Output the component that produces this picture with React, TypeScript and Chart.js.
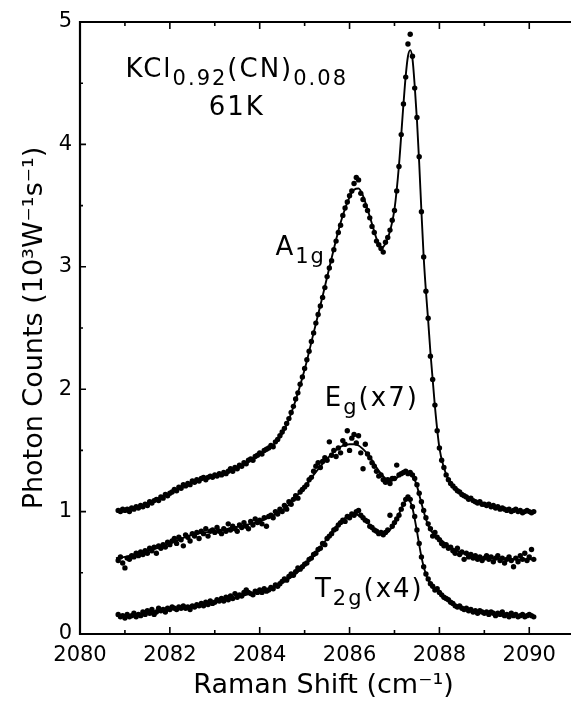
import React, { useEffect, useRef } from 'react';
import { Chart, registerables } from 'chart.js';
Chart.register(...registerables);

const FONT = "'DejaVu Sans', 'Liberation Sans', sans-serif";

// Raman shift of measured points (cm^-1)
const dataX = [
  2080.85, 2080.90, 2080.95,
  2081.00, 2081.05, 2081.10, 2081.15, 2081.20, 2081.25, 2081.30, 2081.35, 2081.40, 2081.45, 2081.50, 2081.55, 2081.60, 2081.65, 2081.70, 2081.75, 2081.80, 2081.85, 2081.90, 2081.95,
  2082.00, 2082.05, 2082.10, 2082.15, 2082.20, 2082.25, 2082.30, 2082.35, 2082.40, 2082.45, 2082.50, 2082.55, 2082.60, 2082.65, 2082.70, 2082.75, 2082.80, 2082.85, 2082.90, 2082.95,
  2083.00, 2083.05, 2083.10, 2083.15, 2083.20, 2083.25, 2083.30, 2083.35, 2083.40, 2083.45, 2083.50, 2083.55, 2083.60, 2083.65, 2083.70, 2083.75, 2083.80, 2083.85, 2083.90, 2083.95,
  2084.00, 2084.05, 2084.10, 2084.15, 2084.20, 2084.25, 2084.30, 2084.35, 2084.40, 2084.45, 2084.50, 2084.55, 2084.60, 2084.65, 2084.70, 2084.75, 2084.80, 2084.85, 2084.90, 2084.95,
  2085.00, 2085.05, 2085.10, 2085.15, 2085.20, 2085.25, 2085.30, 2085.35, 2085.40, 2085.45, 2085.50, 2085.55, 2085.60, 2085.65, 2085.70, 2085.75, 2085.80, 2085.85, 2085.90, 2085.95,
  2086.00, 2086.05, 2086.10, 2086.15, 2086.20, 2086.25, 2086.30, 2086.35, 2086.40, 2086.45, 2086.50, 2086.55, 2086.60, 2086.65, 2086.70, 2086.75, 2086.80, 2086.85, 2086.90, 2086.95,
  2087.00, 2087.05, 2087.10, 2087.15, 2087.20, 2087.25, 2087.30, 2087.35, 2087.40, 2087.45, 2087.50, 2087.55, 2087.60, 2087.65, 2087.70, 2087.75, 2087.80, 2087.85, 2087.90, 2087.95,
  2088.00, 2088.05, 2088.10, 2088.15, 2088.20, 2088.25, 2088.30, 2088.35, 2088.40, 2088.45, 2088.50, 2088.55, 2088.60, 2088.65, 2088.70, 2088.75, 2088.80, 2088.85, 2088.90, 2088.95,
  2089.00, 2089.05, 2089.10, 2089.15, 2089.20, 2089.25, 2089.30, 2089.35, 2089.40, 2089.45, 2089.50, 2089.55, 2089.60, 2089.65, 2089.70, 2089.75, 2089.80, 2089.85, 2089.90, 2089.95,
  2090.00, 2090.05, 2090.10,
];

// A1g measured counts (10^3 W^-1 s^-1)
const a1gDots = [
  1.01, 1.00, 1.02,
  1.01, 1.02, 1.00, 1.03, 1.02, 1.04, 1.03, 1.05, 1.04, 1.06, 1.05, 1.08, 1.07, 1.09, 1.10, 1.09, 1.12, 1.11, 1.14, 1.13,
  1.15, 1.16, 1.18, 1.17, 1.20, 1.19, 1.22, 1.21, 1.23, 1.22, 1.25, 1.24, 1.26, 1.25, 1.27, 1.28, 1.26, 1.28, 1.29, 1.28,
  1.30, 1.29, 1.31, 1.30, 1.32, 1.31, 1.33, 1.35, 1.33, 1.36, 1.35, 1.38, 1.37, 1.40, 1.39, 1.42, 1.43, 1.42, 1.45, 1.46,
  1.48, 1.47, 1.50, 1.51, 1.52, 1.54, 1.53, 1.57, 1.59, 1.62, 1.65, 1.68, 1.72, 1.76, 1.81, 1.86, 1.92, 1.97, 2.04, 2.10,
  2.17, 2.24, 2.31, 2.39, 2.46, 2.54, 2.61, 2.68, 2.75, 2.83, 2.92, 2.99, 3.05, 3.14, 3.21, 3.28, 3.34, 3.42, 3.48, 3.53,
  3.58, 3.62, 3.68, 3.73, 3.71, 3.60, 3.55, 3.50, 3.46, 3.40, 3.33, 3.28, 3.21, 3.18, 3.15, 3.12, 3.20, 3.24, 3.30, 3.38,
  3.46, 3.62, 3.82, 4.08, 4.33, 4.55, 4.82, 4.90, 4.72, 4.46, 4.22, 3.90, 3.45, 3.08, 2.80, 2.58, 2.27, 2.08, 1.87, 1.66,
  1.52, 1.42, 1.36, 1.30, 1.26, 1.23, 1.21, 1.19, 1.17, 1.16, 1.14, 1.13, 1.12, 1.10, 1.11, 1.09, 1.08, 1.07, 1.08, 1.06,
  1.06, 1.05, 1.06, 1.04, 1.05, 1.03, 1.04, 1.02, 1.03, 1.02, 1.01, 1.02, 1.00, 1.01, 1.02, 1.00, 1.01, 0.99, 1.00, 1.01,
  1.00, 0.99, 1.00,
];

// Eg (x7) measured counts
const egDots = [
  0.60, 0.63, 0.58,
  0.54, 0.62, 0.61, 0.64, 0.63, 0.66, 0.64, 0.67, 0.65, 0.68, 0.66, 0.70, 0.68, 0.71, 0.66, 0.72, 0.70, 0.73, 0.71, 0.75,
  0.73, 0.76, 0.78, 0.74, 0.79, 0.77, 0.72, 0.81, 0.79, 0.76, 0.82, 0.80, 0.83, 0.78, 0.84, 0.82, 0.86, 0.80, 0.84, 0.85,
  0.83, 0.87, 0.84, 0.82, 0.86, 0.84, 0.90, 0.85, 0.88, 0.86, 0.84, 0.89, 0.87, 0.91, 0.88, 0.86, 0.92, 0.89, 0.94, 0.91,
  0.93, 0.90, 0.95, 0.88, 0.96, 0.97, 0.95, 1.00, 0.98, 1.02, 1.00, 1.05, 1.02, 1.08, 1.06, 1.10, 1.13, 1.11, 1.16, 1.18,
  1.20, 1.22, 1.26, 1.28, 1.33, 1.37, 1.40, 1.36, 1.41, 1.44, 1.42, 1.57, 1.46, 1.50, 1.45, 1.52, 1.48, 1.58, 1.55, 1.66,
  1.50, 1.60, 1.63, 1.56, 1.62, 1.48, 1.35, 1.55, 1.47, 1.44, 1.40, 1.37, 1.33, 1.29, 1.30, 1.26, 1.24, 1.26, 1.23, 1.27,
  1.27, 1.38, 1.30, 1.31, 1.32, 1.33, 1.31, 1.32, 1.30, 1.27, 1.22, 1.15, 1.08, 1.01, 0.95, 0.90, 0.86, 0.80, 0.83, 0.79,
  0.77, 0.74, 0.72, 0.73, 0.70, 0.71, 0.68, 0.66, 0.70, 0.65, 0.67, 0.61, 0.66, 0.63, 0.65, 0.62, 0.64, 0.61, 0.63, 0.60,
  0.62, 0.64, 0.61, 0.63, 0.59, 0.62, 0.64, 0.60, 0.62, 0.58, 0.61, 0.63, 0.60, 0.55, 0.62, 0.59, 0.64, 0.61, 0.66, 0.60,
  0.63, 0.69, 0.61,
];

// T2g (x4) measured counts
const t2gDots = [
  0.16, 0.14, 0.15,
  0.13, 0.16, 0.14, 0.15, 0.17, 0.14, 0.16, 0.15, 0.18, 0.16, 0.19, 0.17, 0.20, 0.16, 0.18, 0.21, 0.19, 0.20, 0.18, 0.21,
  0.20, 0.22, 0.21, 0.20, 0.22, 0.21, 0.23, 0.21, 0.22, 0.20, 0.23, 0.22, 0.24, 0.23, 0.25, 0.23, 0.26, 0.24, 0.27, 0.25,
  0.26, 0.28, 0.27, 0.29, 0.27, 0.30, 0.28, 0.31, 0.29, 0.33, 0.30, 0.32, 0.31, 0.34, 0.36, 0.34, 0.33, 0.32, 0.35, 0.34,
  0.36, 0.34, 0.37, 0.35, 0.36, 0.38, 0.37, 0.40, 0.39, 0.41, 0.43, 0.45, 0.44, 0.47, 0.49, 0.48, 0.51, 0.54, 0.53, 0.55,
  0.57, 0.58, 0.61, 0.62, 0.65, 0.66, 0.69, 0.70, 0.74, 0.73, 0.78, 0.80, 0.82, 0.85, 0.86, 0.89, 0.91, 0.93, 0.92, 0.96,
  0.95, 0.98, 0.97, 1.00, 1.01, 0.97, 0.95, 0.93, 0.92, 0.88, 0.87, 0.85, 0.84, 0.82, 0.83, 0.81, 0.83, 0.85, 0.97, 0.88,
  0.91, 0.94, 0.97, 1.02, 1.06, 1.10, 1.12, 1.10, 1.04, 0.96, 0.85, 0.74, 0.63, 0.55, 0.49, 0.45, 0.41, 0.39, 0.36, 0.37,
  0.34, 0.32, 0.30, 0.29, 0.28, 0.26, 0.25, 0.23, 0.22, 0.23, 0.21, 0.20, 0.21, 0.19, 0.20, 0.18, 0.19, 0.17, 0.19, 0.18,
  0.17, 0.18, 0.16, 0.18, 0.17, 0.15, 0.17, 0.16, 0.18, 0.15, 0.16, 0.14, 0.17, 0.15, 0.16, 0.14, 0.15, 0.16, 0.14, 0.15,
  0.16, 0.15, 0.14,
];

// Fitted curves
const fitX = [
  2080.8, 2081.0, 2081.2, 2081.4, 2081.6, 2081.8, 2082.0, 2082.2, 2082.4, 2082.6, 2082.8, 2083.0, 2083.2, 2083.4,
  2083.6, 2083.8, 2084.0, 2084.2, 2084.4, 2084.6, 2084.8, 2085.0, 2085.2, 2085.4, 2085.6, 2085.8, 2086.0,
  2086.1, 2086.2, 2086.3, 2086.4, 2086.5, 2086.6, 2086.7, 2086.8, 2086.9, 2087.0, 2087.1,
  2087.2, 2087.25, 2087.3, 2087.35, 2087.4, 2087.45, 2087.5, 2087.55, 2087.6, 2087.65, 2087.7, 2087.75, 2087.8,
  2087.9, 2088.0, 2088.1, 2088.2,
  2088.4, 2088.6, 2088.8, 2089.0, 2089.2, 2089.4, 2089.6, 2089.8, 2090.0,
  2090.1,
];
const a1gFit = [
  1.01, 1.02, 1.03, 1.05, 1.08, 1.12, 1.15, 1.19, 1.22, 1.25, 1.27, 1.29, 1.31, 1.34,
  1.37, 1.42, 1.47, 1.52, 1.58, 1.71, 1.91, 2.16, 2.46, 2.76, 3.07, 3.36, 3.57,
  3.63, 3.64, 3.58, 3.47, 3.35, 3.23, 3.15, 3.19, 3.29, 3.47, 3.83,
  4.33, 4.56, 4.72, 4.77, 4.70, 4.48, 4.20, 3.85, 3.45, 3.08, 2.80, 2.56, 2.30,
  1.86, 1.52, 1.36, 1.26,
  1.17, 1.12, 1.08, 1.06, 1.04, 1.02, 1.01, 1.01, 1.00,
  1.00,
];
const egFit = [
  0.62, 0.63, 0.65, 0.67, 0.69, 0.71, 0.74, 0.77, 0.80, 0.82, 0.83, 0.84, 0.85, 0.87,
  0.88, 0.90, 0.92, 0.95, 0.99, 1.04, 1.12, 1.20, 1.30, 1.39, 1.47, 1.53, 1.55,
  1.55, 1.54, 1.51, 1.47, 1.42, 1.36, 1.31, 1.27, 1.25, 1.26, 1.29,
  1.31, 1.32, 1.32, 1.31, 1.29, 1.26, 1.21, 1.14, 1.07, 1.00, 0.94, 0.89, 0.85,
  0.81, 0.78, 0.75, 0.72,
  0.68, 0.65, 0.63, 0.62, 0.62, 0.61, 0.61, 0.61, 0.61,
  0.61,
];
const t2gFit = [
  0.15, 0.15, 0.16, 0.17, 0.18, 0.19, 0.20, 0.21, 0.22, 0.23, 0.25, 0.26, 0.28, 0.29,
  0.31, 0.33, 0.35, 0.37, 0.40, 0.44, 0.49, 0.56, 0.64, 0.73, 0.83, 0.92, 0.97,
  0.98, 0.97, 0.95, 0.91, 0.87, 0.84, 0.82, 0.82, 0.85, 0.90, 0.98,
  1.06, 1.09, 1.10, 1.08, 1.03, 0.94, 0.84, 0.73, 0.63, 0.55, 0.49, 0.44, 0.41,
  0.37, 0.34, 0.31, 0.28,
  0.23, 0.20, 0.19, 0.18, 0.17, 0.16, 0.16, 0.15, 0.15,
  0.15,
];

const xTicks = [2080, 2081, 2082, 2083, 2084, 2085, 2086, 2087, 2088, 2089, 2090];
const xTickLabels = ['2080', '', '2082', '', '2084', '', '2086', '', '2088', '', '2090'];
const yTicks = [0, 0.5, 1, 1.5, 2, 2.5, 3, 3.5, 4, 4.5, 5];
const yTickLabels = ['0', '', '1', '', '2', '', '3', '', '4', '', '5'];

const xTitle = 'Raman Shift (cm\u207B\u00B9)';
const yTitle = 'Photon Counts (10\u00B3W\u207B\u00B9s\u207B\u00B9)';

// Text labels: [text, isSubscript] parts, anchored in data coordinates
const labels = [
  { parts: [['KCl', false], ['0.92', true], ['(CN)', false], ['0.08', true]], x: 2083.49, y: 4.55, align: 'center' },
  { parts: [['61K', false]], x: 2083.49, y: 4.24, align: 'center' },
  { parts: [['A', false], ['1g', true]], x: 2084.35, y: 3.10, align: 'left' },
  { parts: [['E', false], ['g', true], ['(x7)', false]], x: 2085.45, y: 1.86, align: 'left' },
  { parts: [['T', false], ['2g', true], ['(x4)', false]], x: 2085.23, y: 0.30, align: 'left' },
];

const pts = (xs: number[], ys: number[]) => xs.map((x, i) => ({ x, y: ys[i] }));

const framePlugin = {
  id: 'frameAndLabels',
  afterDatasetsDraw(chart: any) {
    const { ctx, chartArea, scales } = chart;
    const { left, top, bottom } = chartArea;
    const W = chart.width;
    const xs = scales.x;
    const ys = scales.y;
    ctx.save();
    ctx.strokeStyle = '#000';
    ctx.lineWidth = 2.2;
    ctx.beginPath();
    ctx.moveTo(W, top);
    ctx.lineTo(left, top);
    ctx.lineTo(left, bottom);
    ctx.lineTo(W, bottom);
    ctx.stroke();
    ctx.lineWidth = 1.6;
    ctx.beginPath();
    xTicks.forEach((v, i) => {
      const px = xs.getPixelForValue(v);
      const len = xTickLabels[i] ? 7 : 4;
      ctx.moveTo(px, bottom);
      ctx.lineTo(px, bottom - len);
      ctx.moveTo(px, top);
      ctx.lineTo(px, top + len);
    });
    yTicks.forEach((v, i) => {
      const py = ys.getPixelForValue(v);
      const len = yTickLabels[i] ? 6 : 3;
      ctx.moveTo(left, py);
      ctx.lineTo(left + len, py);
    });
    ctx.stroke();

    // text labels
    ctx.fillStyle = '#000';
    ctx.textBaseline = 'alphabetic';
    const main = 26;
    const sub = 21;
    (ctx as any).letterSpacing = '2px';
    for (const lab of labels) {
      let w = 0;
      for (const [t, isSub] of lab.parts as [string, boolean][]) {
        ctx.font = `${isSub ? sub : main}px ${FONT}`;
        w += ctx.measureText(t).width;
      }
      let x = xs.getPixelForValue(lab.x);
      const y = ys.getPixelForValue(lab.y);
      if (lab.align === 'center') x -= w / 2;
      for (const [t, isSub] of lab.parts as [string, boolean][]) {
        ctx.font = `${isSub ? sub : main}px ${FONT}`;
        ctx.fillText(t, x, isSub ? y + 8 : y);
        x += ctx.measureText(t).width;
      }
    }
    ctx.restore();
  },
};

export default function App() {
  const ref = useRef<HTMLCanvasElement | null>(null);
  useEffect(() => {
    if (!ref.current) return;
    Chart.defaults.font.family = FONT;
    const dot = { showLine: false, pointRadius: 2.7, pointBackgroundColor: '#000', pointBorderWidth: 0, borderColor: '#000' };
    const line = { showLine: true, pointRadius: 0, borderColor: '#000', borderWidth: 1.9, cubicInterpolationMode: 'monotone' as const };
    const chart = new Chart(ref.current, {
      type: 'scatter',
      data: {
        datasets: [
          { label: 'A1g', data: pts(dataX, a1gDots), ...dot },
          { label: 'Eg (x7)', data: pts(dataX, egDots), ...dot },
          { label: 'T2g (x4)', data: pts(dataX, t2gDots), ...dot },
          { label: 'A1g fit', data: pts(fitX, a1gFit), ...line },
          { label: 'Eg fit', data: pts(fitX, egFit), ...line },
          { label: 'T2g fit', data: pts(fitX, t2gFit), ...line },
        ] as any,
      },
      options: {
        animation: false,
        responsive: false,
        maintainAspectRatio: false,
        layout: { padding: { top: 22, right: 0, bottom: 0, left: 0 } },
        plugins: { legend: { display: false }, tooltip: { enabled: false } },
        scales: {
          x: {
            type: 'linear',
            min: 2080,
            max: 2090.84,
            grid: { display: false, drawTicks: false },
            border: { display: false },
            afterBuildTicks: (s: any) => { s.ticks = xTicks.map((v) => ({ value: v })); },
            ticks: {
              callback: (_v: any, i: number) => xTickLabels[i],
              font: { size: 21, family: FONT },
              color: '#000',
              padding: 9,
              maxRotation: 0,
              autoSkip: false,
            },
            title: { display: true, text: xTitle, color: '#000', font: { size: 27, family: FONT }, padding: { top: 0, bottom: 0 } },
            afterFit: (s: any) => { s.height = 68; s.paddingLeft = 0; s.paddingRight = 0; },
          },
          y: {
            type: 'linear',
            min: 0,
            max: 5,
            grid: { display: false, drawTicks: false },
            border: { display: false },
            afterBuildTicks: (s: any) => { s.ticks = yTicks.map((v) => ({ value: v })); },
            ticks: {
              callback: (_v: any, i: number) => yTickLabels[i],
              font: { size: 21, family: FONT },
              color: '#000',
              padding: 8,
              autoSkip: false,
            },
            title: { display: true, text: yTitle, color: '#000', font: { size: 27, family: FONT }, padding: { top: 19, bottom: 0 } },
            afterFit: (s: any) => { s.width = 80; s.paddingTop = 0; s.paddingBottom = 0; },
          },
        },
      } as any,
      plugins: [framePlugin],
    });
    return () => chart.destroy();
  }, []);
  return (
    <div style={{ position: 'absolute', left: 0, top: 0, width: 571, height: 702, background: '#fff' }}>
      <canvas ref={ref} width={571} height={702} style={{ width: 571, height: 702, display: 'block' }} />
    </div>
  );
}
